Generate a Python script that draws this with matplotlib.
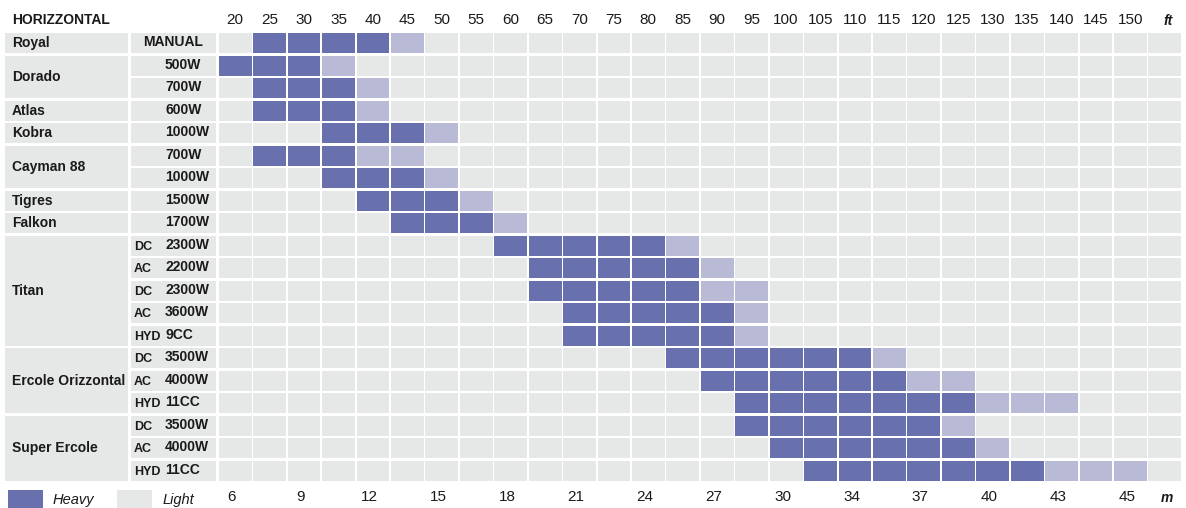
import matplotlib
matplotlib.use("Agg")
import matplotlib.pyplot as plt
from matplotlib.patches import Rectangle
import numpy as np

plt.rcParams['font.family'] = ['Liberation Sans', 'DejaVu Sans']

# feet across the top, metres along the bottom
ft_ticks = [20, 25, 30, 35, 40, 45, 50, 55, 60, 65, 70, 75, 80, 85, 90, 95,
            100, 105, 110, 115, 120, 125, 130, 135, 140, 145, 150]
m_ticks = ["6", "9", "12", "15", "18", "21", "24", "27", "30", "34", "37", "40", "43", "45"]

# models and how many rows each one takes
models = ["Royal", "Dorado", "Atlas", "Kobra", "Cayman 88", "Tigres", "Falkon",
          "Titan", "Ercole Orizzontal", "Super Ercole"]
model_rows = [1, 2, 1, 1, 2, 1, 1, 5, 3, 3]

# one entry per row
prefixes = ["", "", "", "", "", "", "", "", "",
            "DC", "AC", "DC", "AC", "HYD",
            "DC", "AC", "HYD",
            "DC", "AC", "HYD"]
powers = ["MANUAL", "500W", "700W", "600W", "1000W", "700W", "1000W", "1500W", "1700W",
          "2300W", "2200W", "2300W", "3600W", "9CC",
          "3500W", "4000W", "11CC",
          "3500W", "4000W", "11CC"]
# range in feet: heavy from..to, then light up to
heavy_from = [25, 20, 25, 25, 35, 25, 35, 40, 45, 60, 65, 65, 70, 70, 85, 90, 95, 95, 100, 105]
heavy_to = [40, 30, 35, 35, 45, 35, 45, 50, 55, 80, 85, 85, 90, 90, 110, 115, 125, 120, 125, 135]
light_to = [45, 35, 40, 40, 50, 45, 50, 55, 60, 85, 90, 95, 95, 95, 115, 125, 140, 125, 130, 150]

HEAVY = "#6870ae"
LIGHT = "#b9bbd6"
GRAY = "#e6e7e7"
INK = "#1a1a1a"

ncols = len(ft_ticks) + 1  # extra column under "ft"
nrows = len(powers)

fig = plt.figure(figsize=(11.86, 5.08), dpi=100)
ax = fig.add_axes([0, 0, 1, 1])
cw, rh = 34.43, 22.5  # pixel size of one cell
x0, y0 = 218, 32
ax.set_xlim(-x0 / cw, (1186 - x0) / cw)
ax.set_ylim((508 - y0) / rh, -y0 / rh)
ax.axis("off")

gx = 1.6 / cw
gy = 2.2 / rh

# value grid
cols = np.arange(ncols)
for r in range(nrows):
    colors = []
    for c in cols:
        f = 20 + 5 * c
        if c < len(ft_ticks) and heavy_from[r] <= f <= heavy_to[r]:
            colors.append(HEAVY)
        elif c < len(ft_ticks) and heavy_to[r] < f <= light_to[r]:
            colors.append(LIGHT)
        else:
            colors.append(GRAY)
    ax.barh(r + 0.5, 1 - gx, left=cols + gx / 2, height=1 - gy, color=colors, linewidth=0)

# model column
mx0, mx1 = (5 - x0) / cw, (128 - x0) / cw
start = 0
for name, n in zip(models, model_rows):
    ax.barh(start + n / 2, mx1 - mx0, left=mx0, height=n - gy, color=GRAY, linewidth=0)
    ax.text((12 - x0) / cw, start + n / 2, name, fontsize=10, fontweight="bold",
            ha="left", va="center", color=INK)
    start += n

# power column
px0, px1 = (131 - x0) / cw, (216 - x0) / cw
for r in range(nrows):
    ax.barh(r + 0.5, px1 - px0, left=px0, height=1 - gy, color=GRAY, linewidth=0)
    if prefixes[r]:
        ax.text((134 - x0) / cw, r + 0.55, prefixes[r], fontsize=9, fontweight="bold",
                family=['Liberation Sans Narrow', 'Liberation Sans'],
                ha="left", va="center", color=INK)
    if powers[r] == "MANUAL":
        ax.text((px0 + px1) / 2, r + 0.45, powers[r], fontsize=10, fontweight="bold",
                ha="center", va="center", color=INK)
    else:
        ax.text((165 - x0) / cw, r + 0.45, powers[r], fontsize=10, fontweight="bold",
                ha="left", va="center", color=INK)

# headers
ax.text((12 - x0) / cw, -0.55, "HORIZZONTAL", fontsize=10, fontweight="bold",
        ha="left", va="center", color=INK)
for i, t in enumerate(ft_ticks):
    ax.text(i + 0.5, -0.55, str(t), fontsize=11, ha="center", va="center", color=INK)
ax.text(len(ft_ticks) + 0.6, -0.5, "ft", fontsize=10, fontweight="bold", style="italic",
        ha="center", va="center", color=INK)

for i, t in enumerate(m_ticks):
    ax.text(2 * i + 0.4, nrows + 0.68, t, fontsize=11, ha="center", va="center", color=INK)
ax.text(len(ft_ticks) + 0.55, nrows + 0.72, "m", fontsize=10, fontweight="bold", style="italic",
        ha="center", va="center", color=INK)

# legend
ly = (490 - y0) / rh
ax.add_patch(Rectangle(((8 - x0) / cw, ly), 35 / cw, 20 / rh, color=HEAVY, lw=0))
ax.text((53 - x0) / cw, nrows + 0.8, "Heavy", fontsize=10.5, style="italic",
        ha="left", va="center", color=INK)
ax.add_patch(Rectangle(((117 - x0) / cw, ly), 35 / cw, 20 / rh, color=GRAY, lw=0))
ax.text((163 - x0) / cw, nrows + 0.8, "Light", fontsize=10.5, style="italic",
        ha="left", va="center", color=INK)

fig.savefig("out.png", dpi=100)
